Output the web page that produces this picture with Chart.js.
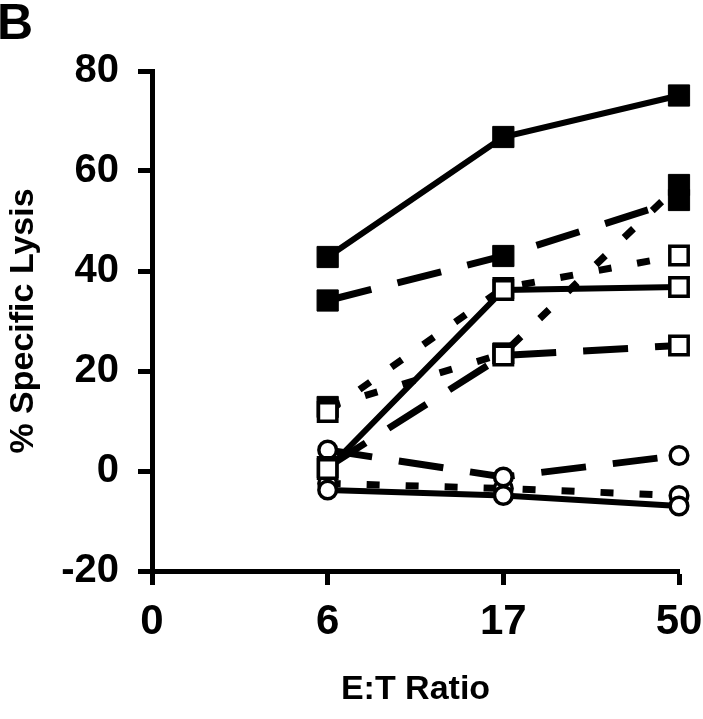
<!DOCTYPE html>
<html>
<head>
<meta charset="utf-8">
<script src="https://cdn.jsdelivr.net/npm/chart.js@4.4.0/dist/chart.umd.min.js"></script>
<style>
  html, body { margin: 0; padding: 0; background: #fff; }
</style>
</head>
<body>
<canvas id="grafica" width="703" height="719"></canvas>
<script>
// categorias del eje x (E:T ratio) y ticks del eje y
const etiquetas = ["0", "6", "17", "50"]
const ticksY = [-20, 0, 20, 40, 60, 80]

// cuadrados rellenos
const llenoSolido = [null, 42.8, 66.8, 75.1]
const llenoGuiones = [null, 34.1, 43.0, 54.2]
const llenoPuntos = [null, 12.8, 23.5, 57.2]

// cuadrados vacios
const vacioSolido = [null, 0.4, 36.2, 36.8]
const vacioGuiones = [null, 0.8, 23.1, 25.1]
const vacioPuntos = [null, 11.8, 36.6, 43.1]

// circulos vacios
const circuloSolido = [null, -3.8, -4.9, -7.0]
const circuloGuiones = [null, 4.2, -1.2, 3.1]
const circuloPuntos = [null, -2.5, -3.5, -4.9]

const fuente = '"Liberation Sans", Arial, Helvetica, sans-serif'

// arma un dataset segun tipo de linea y marcador
let serie = (datos, linea, marcador) => {
    let dash = []
    if (linea == "guiones") dash = [45, 27]
    if (linea == "puntos") dash = [13, 26]
    let radio = 15
    if (marcador == "vacio") radio = 13
    if (marcador == "circulo") radio = 8.8
    return {
        data: datos,
        borderColor: '#000',
        borderWidth: linea == "solido" ? 6 : 7,
        borderDash: dash,
        borderCapStyle: 'butt',
        tension: 0,
        pointStyle: marcador == "circulo" ? 'circle' : 'rect',
        pointRadius: radio,
        pointHoverRadius: radio,
        pointBackgroundColor: marcador == "lleno" ? '#000' : '#fff',
        pointBorderColor: '#000',
        pointBorderWidth: marcador == "lleno" ? 1 : 3.5,
    }
}

// la letra del panel arriba a la izquierda
const letraPanel = {
    id: 'letraPanel',
    afterDraw(chart) {
        const ctx = chart.ctx
        ctx.save()
        ctx.font = 'bold 50px ' + fuente
        ctx.fillStyle = '#000'
        ctx.textBaseline = 'alphabetic'
        ctx.fillText('B', -3, 39)
        ctx.restore()
    }
}

const $grafica = document.querySelector("#grafica")
new Chart($grafica, {
    type: 'line',
    data: {
        labels: etiquetas,
        // el primero se dibuja encima
        datasets: [
            serie(vacioSolido, "solido", "vacio"),
            serie(vacioGuiones, "guiones", "vacio"),
            serie(vacioPuntos, "puntos", "vacio"),
            serie(circuloSolido, "solido", "circulo"),
            serie(circuloGuiones, "guiones", "circulo"),
            serie(circuloPuntos, "puntos", "circulo"),
            serie(llenoSolido, "solido", "lleno"),
            serie(llenoGuiones, "guiones", "lleno"),
            serie(llenoPuntos, "puntos", "lleno"),
        ]
    },
    options: {
        responsive: false,
        animation: false,
        clip: false,
        layout: { padding: { top: 71, right: 0, left: 0, bottom: 0 } },
        plugins: {
            legend: { display: false },
            tooltip: { enabled: false },
        },
        scales: {
            x: {
                offset: false,
                afterFit: (scale) => {
                    scale.height = 148
                    scale.paddingLeft = 0
                    scale.paddingRight = 24
                },
                border: { display: true, color: '#000', width: 5 },
                grid: { drawOnChartArea: false, drawTicks: true, tickLength: 14, tickWidth: 5, tickColor: '#000' },
                ticks: { color: '#000', padding: 12, font: { family: fuente, size: 42, weight: 'bold' }, maxRotation: 0 },
                title: { display: true, text: 'E:T Ratio', color: '#000', padding: { top: 0, bottom: 9 }, font: { family: fuente, size: 34, weight: 'bold' } },
            },
            y: {
                min: -20,
                max: 80,
                afterFit: (scale) => { scale.width = 152 },
                afterBuildTicks: (scale) => { scale.ticks = ticksY.map(v => ({ value: v })) },
                border: { display: true, color: '#000', width: 5 },
                grid: { drawOnChartArea: false, drawTicks: true, tickLength: 14, tickWidth: 5, tickColor: '#000' },
                ticks: { color: '#000', padding: 19, font: { family: fuente, size: 40, weight: 'bold' } },
                title: { display: true, text: '% Specific Lysis', color: '#000', padding: { top: 3, bottom: 0 }, font: { family: fuente, size: 34, weight: 'bold' } },
            }
        }
    },
    plugins: [letraPanel]
})
</script>
</body>
</html>
